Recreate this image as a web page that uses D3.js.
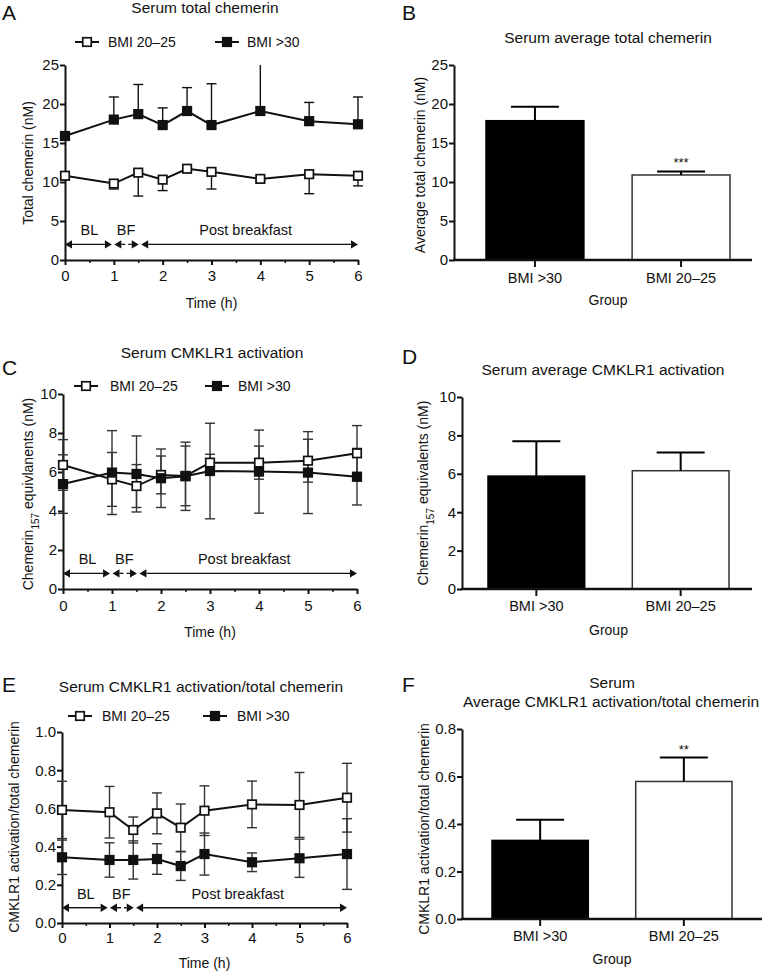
<!DOCTYPE html>
<html><head><meta charset="utf-8">
<script src="https://cdn.jsdelivr.net/npm/d3@7"></script>
<style>
body{margin:0;background:#fff}
svg{display:block}
text{font-family:"Liberation Sans",Arial,Helvetica,sans-serif;fill:#111}
</style>
</head><body>
<svg id="chart" width="762" height="972"></svg>
<script>
// ---------- data ----------
const times = [0, 1, 1.5, 2, 2.5, 3, 4, 5, 6];
const timeTicks = [0, 1, 2, 3, 4, 5, 6];
const halfHourTicks = [0.5, 1.5, 2.5, 3.5, 4.5, 5.5];
const seriesNames = ["BMI 20–25", "BMI >30"];
const groups = ["BMI >30", "BMI 20–25"];

const phaseLabels = ["BL", "BF", "Post breakfast"];
const phaseStart = [0, 1.01, 1.56];
const phaseEnd = [0.96, 1.51, 6];
const phaseMid = [0.5, 1.25, 3.7];
const phaseDashed = [false, true, false];

// A: serum total chemerin (nM)
const totalLean = [10.8, 9.8, 11.2, 10.3, 11.7, 11.3, 10.4, 11.0, 10.8];
const totalLeanErr = [0.5, 0.7, 3.0, 1.4, 0.3, 2.2, 0.3, 2.5, 1.3];
const totalObese = [15.9, 18.0, 18.7, 17.3, 19.1, 17.3, 19.1, 17.8, 17.4];
const totalObeseErr = [0.3, 2.9, 3.8, 2.2, 3.0, 5.3, 6.5, 2.4, 3.5];
const totalTicks = [0, 5, 10, 15, 20, 25];

// C: serum CMKLR1 activation (chemerin157 equivalents, nM)
const actLean = [6.36, 5.62, 5.28, 5.85, 5.80, 6.48, 6.48, 6.58, 6.96];
const actLeanErr = [1.3, 1.38, 1.1, 0.97, 1.53, 0.43, 0.85, 1.1, 1.42];
const actObese = [5.38, 5.97, 5.90, 5.68, 5.78, 6.05, 6.02, 5.97, 5.76];
const actObeseErr = [1.5, 2.15, 1.95, 1.5, 1.75, 2.45, 2.13, 2.1, 1.45];
const actTicks = [0, 2, 4, 6, 8, 10];

// E: CMKLR1 activation / total chemerin
const ratioLean = [0.592, 0.58, 0.487, 0.574, 0.499, 0.588, 0.621, 0.618, 0.656];
const ratioLeanErr = [0.15, 0.135, 0.068, 0.107, 0.124, 0.13, 0.122, 0.17, 0.18];
const ratioObese = [0.344, 0.33, 0.33, 0.335, 0.298, 0.361, 0.318, 0.339, 0.361];
const ratioObeseErr = [0.09, 0.09, 0.1, 0.08, 0.075, 0.11, 0.049, 0.1, 0.185];
const ratioTicks = [0, 0.2, 0.4, 0.6, 0.8, 1.0];

// B, D, F: averages per group
const avgTotal = [17.86, 10.9];
const avgTotalErr = [1.8, 0.45];
const avgTotalSig = ["", "***"];
const avgAct = [5.88, 6.16];
const avgActErr = [1.82, 0.95];
const avgActSig = ["", ""];
const avgRatio = [0.331, 0.579];
const avgRatioErr = [0.087, 0.101];
const avgRatioSig = ["", "**"];
const avgRatioTicks = [0, 0.2, 0.4, 0.6, 0.8];

// ---------- drawing ----------
const svg = d3.select("#chart");
const FONT = '"Liberation Sans",Arial,Helvetica,sans-serif';

function styleAxis(sel, fs) {
  sel.select(".domain").attr("stroke", "#111").attr("stroke-width", 2);
  sel.selectAll(".tick line").attr("stroke", "#111").attr("stroke-width", 2);
  sel.selectAll(".tick text").attr("font-size", fs).attr("font-family", FONT).attr("fill", "#111");
}

function letter(t, x, y) {
  svg.append("text").attr("x", x).attr("y", y).attr("font-size", 21).text(t);
}
function title(t, x, y) {
  svg.append("text").attr("x", x).attr("y", y).attr("text-anchor", "middle").attr("font-size", 15.5).text(t);
}
function yLabel(parts, bx, cy) {
  const t = svg.append("text").attr("transform", "rotate(-90)")
    .attr("x", -cy).attr("y", bx).attr("text-anchor", "middle").attr("font-size", 14);
  parts.forEach(p => {
    const s = t.append("tspan").text(p.text);
    if (p.sub) s.attr("font-size", 10).attr("baseline-shift", "sub");
  });
}

function square(g, cx, cy, filled, size) {
  g.append("rect").attr("x", cx - size / 2).attr("y", cy - size / 2)
    .attr("width", size).attr("height", size)
    .attr("fill", filled ? "#111" : "#fff").attr("stroke", "#111").attr("stroke-width", 1.7);
}

function linePanel(p) {
  const g = svg.append("g");
  const x = d3.scaleLinear().domain([0, 6]).range([p.left, p.right]);
  const y = d3.scaleLinear().domain([0, p.ymax]).range([p.bottom, p.top]);

  // axes
  const ya = g.append("g").attr("transform", `translate(${p.left},0)`)
    .call(d3.axisLeft(y).tickValues(p.yticks).tickFormat(p.fmt).tickSize(5).tickSizeOuter(0).tickPadding(1));
  styleAxis(ya, 15);
  const xa = g.append("g").attr("transform", `translate(0,${p.bottom})`)
    .call(d3.axisBottom(x).tickValues(timeTicks).tickFormat(d3.format("d")).tickSize(5).tickSizeOuter(0)
      .tickPadding(p.bottom === 0 ? 0 : p.xTickBase - p.bottom - 5 - 0.71 * 15));
  styleAxis(xa, 15);
  const xm = g.append("g").attr("transform", `translate(0,${p.bottom})`)
    .call(d3.axisBottom(x).tickValues(halfHourTicks).tickFormat("").tickSize(3).tickSizeOuter(0));
  xm.select(".domain").remove();
  xm.selectAll(".tick line").attr("stroke", "#111").attr("stroke-width", 1.5);

  // phase arrows
  const ay = y(p.ymax * 0.08);
  const ly = y(p.ymax * 0.128);
  const ah = 7, aw = 4.2;
  phaseLabels.forEach((lab, i) => {
    const x0 = x(phaseStart[i]), x1 = x(phaseEnd[i]);
    g.append("line").attr("x1", x0 + ah).attr("x2", x1 - ah).attr("y1", ay).attr("y2", ay)
      .attr("stroke", "#111").attr("stroke-width", 1.4)
      .attr("stroke-dasharray", phaseDashed[i] ? "4,3" : null);
    g.append("path").attr("d", `M${x0},${ay}L${x0 + ah},${ay - aw}L${x0 + ah},${ay + aw}Z`).attr("fill", "#111");
    g.append("path").attr("d", `M${x1},${ay}L${x1 - ah},${ay - aw}L${x1 - ah},${ay + aw}Z`).attr("fill", "#111");
    g.append("text").attr("x", x(phaseMid[i])).attr("y", ly).attr("text-anchor", "middle")
      .attr("font-size", 14.5).text(lab);
  });

  // error bars
  const capW = 5;
  p.series.forEach(s => {
    times.forEach((t, i) => {
      const v = s.vals[i], e = s.errs[i];
      const ends = [];
      if (s.dir === "up" || s.dir === "both") ends.push(v + e);
      if (s.dir === "down" || s.dir === "both") ends.push(v - e);
      ends.forEach(end => {
        const clipped = end > p.ymax;
        const yy = y(Math.min(end, p.ymax));
        g.append("line").attr("x1", x(t)).attr("x2", x(t)).attr("y1", y(v)).attr("y2", yy)
          .attr("stroke", p.errColor).attr("stroke-width", 1.4);
        if (!clipped)
          g.append("line").attr("x1", x(t) - capW).attr("x2", x(t) + capW).attr("y1", yy).attr("y2", yy)
            .attr("stroke", p.errColor).attr("stroke-width", 1.4);
      });
    });
  });
  // lines and markers
  p.series.forEach(s => {
    const line = d3.line().x((d, i) => x(times[i])).y(d => y(d));
    g.append("path").datum(s.vals).attr("d", line).attr("fill", "none")
      .attr("stroke", "#111").attr("stroke-width", 2);
    s.vals.forEach((v, i) => square(g, x(times[i]), y(v), s.filled, 8.5));
  });

  // legend
  p.legend.forEach((L, i) => {
    g.append("line").attr("x1", L.mx - 12).attr("x2", L.mx + 12).attr("y1", p.legendY).attr("y2", p.legendY)
      .attr("stroke", "#111").attr("stroke-width", 2);
    square(g, L.mx, p.legendY, i === 1, 8.5);
    g.append("text").attr("x", L.tx).attr("y", p.legendY + 5).attr("font-size", 14).text(seriesNames[i]);
  });

  // x label
  g.append("text").attr("x", (p.left + p.right) / 2).attr("y", p.xLabelBase).attr("text-anchor", "middle")
    .attr("font-size", 14).text("Time (h)");
}

function barPanel(p) {
  const g = svg.append("g");
  const x = d3.scaleBand().domain(groups).range([p.bandL, p.bandR]).paddingInner(0.33).paddingOuter(0);
  const y = d3.scaleLinear().domain([0, p.ymax]).range([p.bottom, p.top]);
  const vals = p.vals;

  // bars
  groups.forEach((gname, i) => {
    g.append("rect").attr("x", x(gname)).attr("y", y(vals[i]))
      .attr("width", x.bandwidth()).attr("height", y(0) - y(vals[i]))
      .attr("fill", i === 0 ? "#000" : "#fff").attr("stroke", i === 0 ? "#000" : "#333")
      .attr("stroke-width", 1.5);
    const cx = x(gname) + x.bandwidth() / 2;
    const top = y(vals[i] + p.errs[i]);
    g.append("line").attr("x1", cx).attr("x2", cx).attr("y1", y(vals[i])).attr("y2", top)
      .attr("stroke", "#000").attr("stroke-width", 2);
    g.append("line").attr("x1", cx - 24).attr("x2", cx + 24).attr("y1", top).attr("y2", top)
      .attr("stroke", "#000").attr("stroke-width", 2);
    if (p.sig[i])
      g.append("text").attr("x", cx).attr("y", top - p.sigGap).attr("text-anchor", "middle")
        .attr("font-size", 13).text(p.sig[i]);
  });

  // axes
  const ya = g.append("g").attr("transform", `translate(${p.left},0)`)
    .call(d3.axisLeft(y).tickValues(p.yticks).tickFormat(p.fmt).tickSize(5).tickSizeOuter(0).tickPadding(1));
  styleAxis(ya, 15);
  const xa = g.append("g").attr("transform", `translate(0,${p.bottom})`)
    .call(d3.axisBottom(x).tickSize(7).tickSizeOuter(0).tickPadding(p.xTickBase - p.bottom - 7 - 0.71 * 14.5));
  xa.select(".domain").remove();
  styleAxis(xa, 14.5);
  g.append("line").attr("x1", p.left - 1).attr("x2", p.axisEnd).attr("y1", p.bottom).attr("y2", p.bottom)
    .attr("stroke", "#111").attr("stroke-width", 2.4);

  g.append("text").attr("x", (x(groups[0]) + x(groups[1]) + x.bandwidth()) / 2).attr("y", p.xLabelBase)
    .attr("text-anchor", "middle").attr("font-size", 14).text("Group");
}

// ---- Panel A ----
letter("A", 2, 20);
title("Serum total chemerin", 205, 13);
linePanel({
  left: 65, right: 358, top: 65, bottom: 260, ymax: 25, yticks: totalTicks, fmt: d3.format("d"),
  xTickBase: 281, xLabelBase: 308, errColor: "#111", legendY: 42,
  legend: [{ mx: 87, tx: 108 }, { mx: 227, tx: 247 }],
  series: [
    { vals: totalLean, errs: totalLeanErr, filled: false, dir: "down" },
    { vals: totalObese, errs: totalObeseErr, filled: true, dir: "up" }
  ]
});
yLabel([{ text: "Total chemerin (nM)" }], 33, 163);

// ---- Panel B ----
letter("B", 402, 19.5);
title("Serum average total chemerin", 608, 42.5);
barPanel({
  left: 454, axisEnd: 752, top: 65, bottom: 260, ymax: 25, yticks: totalTicks, fmt: d3.format("d"),
  bandL: 486, bandR: 730, vals: avgTotal, errs: avgTotalErr, sig: avgTotalSig, sigGap: 4,
  xTickBase: 283, xLabelBase: 305
});
yLabel([{ text: "Average total chemerin (nM)" }], 425, 165);

// ---- Panel C ----
letter("C", 2, 375);
title("Serum CMKLR1 activation", 212, 357.5);
linePanel({
  left: 63, right: 357, top: 394, bottom: 589, ymax: 10, yticks: actTicks, fmt: d3.format("d"),
  xTickBase: 611, xLabelBase: 637, errColor: "#333", legendY: 386,
  legend: [{ mx: 86, tx: 110 }, { mx: 217, tx: 238 }],
  series: [
    { vals: actLean, errs: actLeanErr, filled: false, dir: "both" },
    { vals: actObese, errs: actObeseErr, filled: true, dir: "both" }
  ]
});
yLabel([{ text: "Chemerin" }, { text: "157", sub: true }, { text: " equivlanents (nM)" }], 33, 494);

// ---- Panel D ----
letter("D", 402, 364);
title("Serum average CMKLR1 activation", 603, 375);
barPanel({
  left: 462, axisEnd: 752, top: 397, bottom: 589, ymax: 10, yticks: actTicks, fmt: d3.format("d"),
  bandL: 488, bandR: 729, vals: avgAct, errs: avgActErr, sig: avgActSig, sigGap: 4,
  xTickBase: 611, xLabelBase: 635
});
yLabel([{ text: "Chemerin" }, { text: "157", sub: true }, { text: " equivalents (nM)" }], 428, 493);

// ---- Panel E ----
letter("E", 2, 692);
title("Serum CMKLR1 activation/total chemerin", 201, 692);
linePanel({
  left: 62, right: 347, top: 732, bottom: 923, ymax: 1.0, yticks: ratioTicks, fmt: d3.format(".1f"),
  xTickBase: 943, xLabelBase: 968, errColor: "#333", legendY: 716,
  legend: [{ mx: 80, tx: 102 }, { mx: 215, tx: 237 }],
  series: [
    { vals: ratioLean, errs: ratioLeanErr, filled: false, dir: "both" },
    { vals: ratioObese, errs: ratioObeseErr, filled: true, dir: "both" }
  ]
});
yLabel([{ text: "CMKLR1 activation/total chemerin" }], 19, 827);

// ---- Panel F ----
letter("F", 402, 692);
title("Serum", 612, 688);
title("Average CMKLR1 activation/total chemerin", 611, 707);
barPanel({
  left: 462, axisEnd: 762, top: 729, bottom: 919, ymax: 0.8, yticks: avgRatioTicks, fmt: d3.format(".1f"),
  bandL: 492, bandR: 732, vals: avgRatio, errs: avgRatioErr, sig: avgRatioSig, sigGap: 4,
  xTickBase: 941, xLabelBase: 964
});
yLabel([{ text: "CMKLR1 activation/total chemerin" }], 429, 829);
</script>
</body></html>
